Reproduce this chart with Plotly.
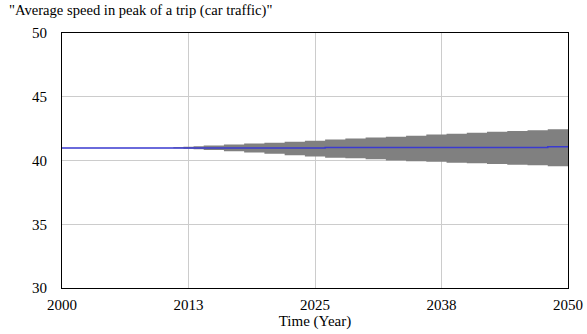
import plotly.graph_objects as go

# Data
years = [2000, 2010, 2011, 2012, 2013, 2014, 2016, 2018, 2020, 2022, 2024, 2026, 2028, 2030,
         2032, 2034, 2036, 2038, 2040, 2042, 2044, 2046, 2048, 2050]
upper = [41.0, 41.0, 41.03, 41.07, 41.12, 41.17, 41.25, 41.33, 41.4, 41.47, 41.55, 41.65, 41.72, 41.8,
         41.87, 41.95, 42.03, 42.1, 42.17, 42.25, 42.32, 42.38, 42.45, 42.55]
lower = [41.0, 41.0, 40.97, 40.93, 40.88, 40.82, 40.73, 40.63, 40.52, 40.42, 40.32, 40.22, 40.18, 40.1,
         40.0, 39.95, 39.9, 39.83, 39.78, 39.72, 39.66, 39.62, 39.55, 39.5]
line_years = [2000, 2026, 2048, 2050]
line_vals = [40.98, 41.02, 41.07, 41.07]

x_tickvals = [2000, 2012.5, 2025, 2037.5, 2050]
x_ticktext = ["2000", "2013", "2025", "2038", "2050"]
y_tickvals = [30, 35, 40, 45, 50]

title_text = '"Average speed in peak of a trip (car traffic)"'
x_title = "Time (Year)"

FONT = "Liberation Serif, Times New Roman, serif"
FS = 15

W, H = 587, 334
ML, MR, MT, MB = 62, 19, 33, 46
PW = W - ML - MR

fig = go.Figure()
fig.add_trace(go.Scatter(x=years, y=lower, mode="lines", line=dict(width=0, shape="hv", color="#808080"),
                         showlegend=False, hoverinfo="skip"))
fig.add_trace(go.Scatter(x=years, y=upper, mode="lines", line=dict(width=0, shape="hv", color="#808080"),
                         fill="tonexty", fillcolor="#808080", showlegend=False, hoverinfo="skip"))
fig.add_trace(go.Scatter(x=line_years, y=line_vals, mode="lines",
                         line=dict(width=1.5, shape="hv", color="#3a3ad0"), showlegend=False))

fig.update_layout(
    width=W, height=H,
    margin=dict(l=ML, r=MR, t=MT, b=MB, autoexpand=False),
    paper_bgcolor="white", plot_bgcolor="white",
    font=dict(family=FONT, size=FS, color="black"),
)
fig.add_annotation(text=title_text, xref="paper", yref="paper", x=(7 - ML) / PW, y=1.0, yshift=23,
                   xanchor="left", yanchor="middle", showarrow=False,
                   font=dict(family=FONT, size=14.6, color="black"))

fig.update_xaxes(range=[2000, 2050], tickvals=x_tickvals, ticktext=x_ticktext,
                 showgrid=True, gridcolor="#cccccc", gridwidth=1,
                 showline=True, linecolor="black", linewidth=1, mirror=True,
                 ticks="outside", ticklen=3, tickcolor="white", zeroline=False, automargin=False,
                 title=dict(text=x_title, standoff=0, font=dict(family=FONT, size=FS)),
                 tickfont=dict(family=FONT, size=FS))
fig.update_yaxes(range=[30, 50], tickvals=y_tickvals,
                 showgrid=True, gridcolor="#cccccc", gridwidth=1,
                 showline=True, linecolor="black", linewidth=1, mirror=True,
                 ticks="outside", ticklen=11, tickcolor="white", zeroline=False, automargin=False,
                 tickfont=dict(family=FONT, size=FS))

fig.write_html("out.html", config={"displayModeBar": False},
               post_script="document.body.style.margin='0';document.body.style.overflow='hidden';")
